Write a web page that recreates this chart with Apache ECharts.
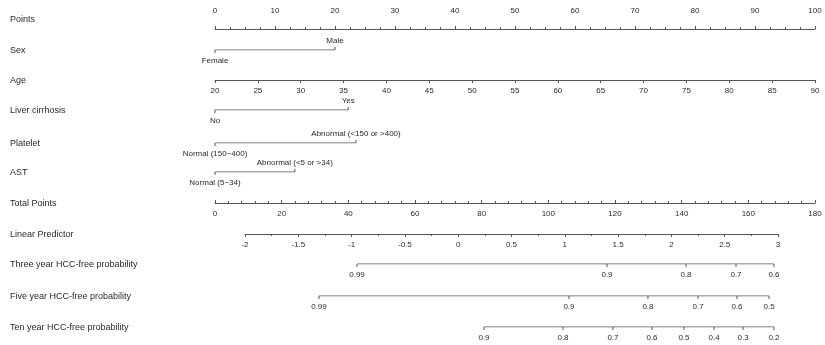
<!DOCTYPE html>
<html>
<head>
<meta charset="utf-8">
<script src="https://cdn.jsdelivr.net/npm/echarts@6/dist/echarts.min.js"></script>
<style>
  html, body { margin: 0; padding: 0; background: #fff; }
  #chart { width: 825px; height: 345px; }
</style>
</head>
<body>
<div id="chart"></div>
<script>
// row titles (left column)
const rowNames = ['Points', 'Sex', 'Age', 'Liver cirrhosis', 'Platelet', 'AST', 'Total Points',
  'Linear Predictor', 'Three year HCC-free probability', 'Five year HCC-free probability',
  'Ten year HCC-free probability']

// continuous scales
const pointsRange = [0, 100]
const ageRange = [20, 90]
const totalPointsRange = [0, 180]
const lpRange = [-2, 3]

// categorical predictors: levels and their points
const sexLevels = ['Female', 'Male']
const sexPoints = [0, 20]
const cirrhosisLevels = ['No', 'Yes']
const cirrhosisPoints = [0, 22.2]
const plateletLevels = ['Normal (150~400)', 'Abnormal (<150 or >400)']
const plateletPoints = [0, 23.5]
const astLevels = ['Normal (5~34)', 'Abnormal (<5 or >34)']
const astPoints = [0, 13.3]

// survival probabilities and their position on the linear predictor
const threeYearProb = [0.99, 0.9, 0.8, 0.7, 0.6]
const threeYearLp = [-0.949, 1.396, 2.137, 2.606, 2.962]
const fiveYearProb = [0.99, 0.9, 0.8, 0.7, 0.6, 0.5]
const fiveYearLp = [-1.306, 1.039, 1.780, 2.250, 2.615, 2.916]
const tenYearProb = [0.9, 0.8, 0.7, 0.6, 0.5, 0.4, 0.3, 0.2]
const tenYearLp = [0.242, 0.983, 1.452, 1.818, 2.118, 2.400, 2.672, 2.962]

const rowY = [19, 50, 80, 110, 143, 172, 203, 234, 264, 296, 327]
const lineColor = '#555'
const textColor = '#2a2a2a'
const fontFamily = 'Liberation Sans, Arial, sans-serif'

const chart = echarts.init(document.getElementById('chart'))

const grids = []
const xAxes = []
const yAxes = []
const series = []

// 添加一行
function addRow (y, left, width, axisCfg, top) {
  const idx = grids.length
  grids.push(top
    ? { left: left, width: width, top: y, height: 10 }
    : { left: left, width: width, top: y - 10, height: 10 })
  xAxes.push(Object.assign({
    type: 'value',
    gridIndex: idx,
    position: top ? 'top' : 'bottom',
    splitLine: { show: false },
    axisLine: { lineStyle: { color: lineColor, width: 1 } },
    axisTick: { length: 3, lineStyle: { color: lineColor } },
    axisLabel: { color: textColor, fontSize: 8, fontFamily: fontFamily, margin: top ? 4 : 7, showMinLabel: true, showMaxLabel: true }
  }, axisCfg))
  yAxes.push({ type: 'value', gridIndex: idx, min: 0, max: 1, show: false })
  return idx
}

const hiddenAxis = { show: false }

function levelSeries (idx, levels, pts) {
  series.push({
    type: 'line',
    xAxisIndex: idx,
    yAxisIndex: idx,
    lineStyle: { color: lineColor, width: 1 },
    itemStyle: { color: lineColor },
    symbol: 'rect',
    symbolSize: [1, 3],
    data: levels.map((name, i) => ({
      name: name,
      value: [pts[i], 0],
      symbolOffset: [0, i === 0 ? 1.5 : -1.5],
      label: { position: i === 0 ? 'bottom' : 'top', distance: i === 0 ? 4 : 2 }
    })),
    label: { show: true, formatter: '{b}', color: textColor, fontSize: 8, fontFamily: fontFamily }
  })
}

function probSeries (idx, probs, lps) {
  series.push({
    type: 'line',
    xAxisIndex: idx,
    yAxisIndex: idx,
    lineStyle: { color: lineColor, width: 1 },
    itemStyle: { color: lineColor },
    symbol: 'rect',
    symbolSize: [1, 3],
    symbolOffset: [0, 1.5],
    data: probs.map((p, i) => ({ name: String(p), value: [lps[i], 0] })),
    label: { show: true, position: 'bottom', formatter: '{b}', distance: 4, color: textColor, fontSize: 8, fontFamily: fontFamily }
  })
}

// Points
addRow(rowY[0], 215, 600, {
  min: pointsRange[0], max: pointsRange[1], interval: 10,
  minorTick: { show: true, splitNumber: 4, length: 2, lineStyle: { color: lineColor } }
}, true)
// Sex
levelSeries(addRow(rowY[1], 215, 600, Object.assign({ min: pointsRange[0], max: pointsRange[1] }, hiddenAxis)), sexLevels, sexPoints)
// Age
addRow(rowY[2], 215, 600, { min: ageRange[0], max: ageRange[1], interval: 5 })
// Liver cirrhosis
levelSeries(addRow(rowY[3], 215, 600, Object.assign({ min: pointsRange[0], max: pointsRange[1] }, hiddenAxis)), cirrhosisLevels, cirrhosisPoints)
// Platelet
levelSeries(addRow(rowY[4], 215, 600, Object.assign({ min: pointsRange[0], max: pointsRange[1] }, hiddenAxis)), plateletLevels, plateletPoints)
// AST
levelSeries(addRow(rowY[5], 215, 600, Object.assign({ min: pointsRange[0], max: pointsRange[1] }, hiddenAxis)), astLevels, astPoints)
// Total Points
addRow(rowY[6], 215, 600, {
  min: totalPointsRange[0], max: totalPointsRange[1], interval: 20,
  axisTick: { length: 3, inside: true, lineStyle: { color: lineColor } },
  minorTick: { show: true, splitNumber: 5, length: 2, lineStyle: { color: lineColor } }
})
// Linear Predictor
addRow(rowY[7], 245, 533, {
  min: lpRange[0], max: lpRange[1], interval: 0.5,
  minorTick: { show: true, splitNumber: 2, length: 2, lineStyle: { color: lineColor } }
})
// probabilities
probSeries(addRow(rowY[8], 245, 533, Object.assign({ min: lpRange[0], max: lpRange[1] }, hiddenAxis)), threeYearProb, threeYearLp)
probSeries(addRow(rowY[9], 245, 533, Object.assign({ min: lpRange[0], max: lpRange[1] }, hiddenAxis)), fiveYearProb, fiveYearLp)
probSeries(addRow(rowY[10], 245, 533, Object.assign({ min: lpRange[0], max: lpRange[1] }, hiddenAxis)), tenYearProb, tenYearLp)

const option = {
  animation: false,
  backgroundColor: '#fff',
  grid: grids,
  xAxis: xAxes,
  yAxis: yAxes,
  series: series,
  graphic: rowNames.map((name, i) => ({
    type: 'text',
    x: 10,
    y: rowY[i] + 1,
    style: { text: name, fill: textColor, font: '9px ' + fontFamily, verticalAlign: 'middle' }
  }))
}

chart.setOption(option)
</script>
</body>
</html>
